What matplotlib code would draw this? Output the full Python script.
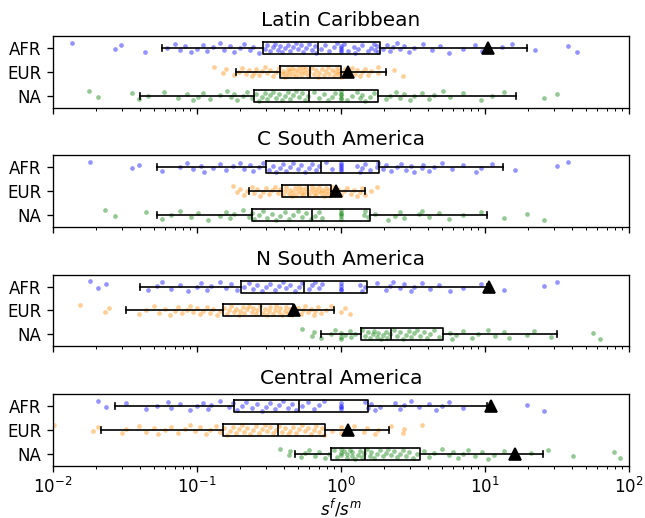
import numpy as np
import matplotlib
matplotlib.use("Agg")
import matplotlib.pyplot as plt

groups = ["AFR", "EUR", "NA"]
regions = ["Latin Caribbean", "C South America", "N South America", "Central America"]
colors = ["blue", "darkorange", "green"]

# individual s^f/s^m values, stored as log10 exponents
lc_afr = [-1.87, -1.57, -1.53, -1.36, -1.21, -1.15, -1.12, -1.08, -1.04, -1.00, -0.96, -0.93, -0.89, -0.84, -0.81,
          -0.77, -0.74, -0.70, -0.67, -0.63, -0.61, -0.57, -0.53, -0.51, -0.49, -0.47, -0.46, -0.44, -0.42, -0.41,
          -0.39, -0.37, -0.35, -0.33, -0.31, -0.30, -0.28, -0.26, -0.24, -0.22, -0.20, -0.18, -0.17, -0.14, -0.11,
          -0.08, -0.05, -0.03, 0.0, 0.0, 0.0, 0.0, 0.02, 0.05, 0.09, 0.10, 0.12, 0.15, 0.19, 0.21, 0.23, 0.24, 0.25,
          0.26, 0.29, 0.32, 0.34, 0.36, 0.39, 0.41, 0.44, 0.47, 0.51, 0.57, 0.63, 0.69, 0.75, 0.85, 0.93, 0.98,
          1.12, 1.19, 1.35, 1.58, 1.64]
lc_eur = [-0.88, -0.82, -0.80, -0.74, -0.71, -0.69, -0.66, -0.64, -0.62, -0.60, -0.59, -0.57, -0.55, -0.53, -0.51,
          -0.49, -0.47, -0.45, -0.43, -0.41, -0.40, -0.39, -0.38, -0.37, -0.36, -0.35, -0.34, -0.33, -0.32, -0.31,
          -0.30, -0.29, -0.28, -0.27, -0.26, -0.25, -0.24, -0.23, -0.22, -0.20, -0.19, -0.17, -0.16, -0.15, -0.13,
          -0.12, -0.10, -0.09, -0.08, -0.06, -0.05, -0.04, -0.03, -0.02, -0.01, 0.0, 0.0, 0.03, 0.05, 0.05, 0.08,
          0.10, 0.11, 0.13, 0.15, 0.17, 0.19, 0.21, 0.26, 0.26, 0.37, 0.43]
lc_na = [-1.75, -1.69, -1.45, -1.40, -1.34, -1.23, -1.13, -1.07, -1.03, -0.99, -0.96, -0.91, -0.84, -0.79, -0.76,
         -0.74, -0.72, -0.68, -0.65, -0.62, -0.59, -0.57, -0.55, -0.53, -0.51, -0.49, -0.47, -0.45, -0.43, -0.41,
         -0.39, -0.37, -0.35, -0.33, -0.31, -0.29, -0.27, -0.25, -0.23, -0.19, -0.15, -0.12, -0.09, -0.06, -0.04,
         0.0, 0.0, 0.0, 0.0, 0.0, 0.04, 0.08, 0.11, 0.13, 0.15, 0.17, 0.20, 0.23, 0.31, 0.34, 0.38, 0.41, 0.44,
         0.48, 0.51, 0.56, 0.61, 0.65, 0.71, 0.76, 0.85, 0.97, 1.05, 1.13, 1.41, 1.50]

csa_afr = [-1.74, -1.45, -1.40, -1.24, -1.12, -1.07, -1.03, -0.97, -0.95, -0.89, -0.84, -0.80, -0.75, -0.70, -0.67,
           -0.63, -0.61, -0.57, -0.54, -0.50, -0.47, -0.45, -0.42, -0.40, -0.38, -0.35, -0.33, -0.30, -0.28, -0.25,
           -0.22, -0.20, -0.17, -0.15, -0.10, -0.06, 0.0, 0.0, 0.0, 0.0, 0.0, 0.11, 0.13, 0.15, 0.17, 0.20, 0.25,
           0.26, 0.29, 0.31, 0.35, 0.39, 0.42, 0.45, 0.49, 0.51, 0.56, 0.57, 0.61, 0.65, 0.70, 0.77, 0.85, 0.94,
           0.97, 1.05, 1.21, 1.50, 1.58]
csa_eur = [-0.75, -0.72, -0.70, -0.67, -0.65, -0.62, -0.60, -0.58, -0.56, -0.54, -0.52, -0.50, -0.48, -0.46, -0.44,
           -0.42, -0.40, -0.39, -0.38, -0.36, -0.35, -0.34, -0.33, -0.32, -0.31, -0.30, -0.29, -0.28, -0.27, -0.26,
           -0.25, -0.24, -0.22, -0.21, -0.20, -0.19, -0.18, -0.17, -0.16, -0.15, -0.14, -0.13, -0.12, -0.11, -0.10,
           -0.09, -0.08, -0.06, -0.04, -0.02, 0.0, 0.02, 0.04, 0.07, 0.09, 0.11, 0.13, 0.15, 0.17, 0.21, 0.25]
csa_na = [-1.64, -1.57, -1.35, -1.24, -1.18, -1.12, -1.04, -0.99, -0.92, -0.84, -0.80, -0.77, -0.74, -0.68, -0.64,
          -0.62, -0.60, -0.57, -0.54, -0.51, -0.48, -0.45, -0.42, -0.39, -0.36, -0.33, -0.30, -0.27, -0.24, -0.21,
          -0.18, -0.15, -0.13, 0.0, 0.0, 0.0, 0.0, 0.0, 0.16, 0.17, 0.19, 0.24, 0.33, 0.375, 0.41, 0.44, 0.54,
          0.56, 0.61, 0.68, 0.75, 0.85, 0.97, 1.13, 1.29, 1.41]

nsa_afr = [-1.74, -1.69, -1.63, -1.34, -1.28, -1.24, -1.18, -1.12, -1.06, -1.00, -0.97, -0.93, -0.90, -0.84, -0.80,
           -0.76, -0.72, -0.67, -0.64, -0.61, -0.58, -0.55, -0.52, -0.49, -0.46, -0.43, -0.40, -0.38, -0.35, -0.32,
           -0.29, -0.27, -0.22, -0.20, -0.18, -0.15, -0.13, 0.0, 0.0, 0.0, 0.0, 0.13, 0.15, 0.17, 0.25, 0.31, 0.34,
           0.36, 0.41, 0.44, 0.49, 0.51, 0.56, 0.62, 0.68, 0.76, 0.85, 0.97, 1.13, 1.41, 1.50]
nsa_eur = [-1.81, -1.64, -1.61, -1.40, -1.35, -1.30, -1.26, -1.22, -1.19, -1.15, -1.13, -1.10, -1.07, -1.05, -1.03,
           -1.00, -0.98, -0.96, -0.93, -0.91, -0.89, -0.86, -0.84, -0.81, -0.79, -0.78, -0.76, -0.74, -0.73, -0.71,
           -0.70, -0.68, -0.67, -0.65, -0.64, -0.62, -0.61, -0.59, -0.58, -0.56, -0.54, -0.53, -0.51, -0.50, -0.49,
           -0.47, -0.46, -0.45, -0.43, -0.42, -0.41, -0.39, -0.38, -0.37, -0.35, -0.34, -0.31, -0.30, -0.28, -0.26,
           -0.25, -0.23, -0.21, -0.19, -0.18, -0.16, -0.14, -0.10, -0.07, 0.0, 0.03, 0.06]
nsa_na = [-0.27, -0.20, -0.19, -0.14, -0.07, -0.04, 0.0, 0.0, 0.0, 0.03, 0.06, 0.07, 0.10, 0.15, 0.17, 0.19, 0.20,
          0.22, 0.23, 0.25, 0.26, 0.28, 0.29, 0.31, 0.32, 0.34, 0.37, 0.39, 0.41, 0.43, 0.45, 0.47, 0.49, 0.51,
          0.53, 0.55, 0.58, 0.60, 0.62, 0.65, 0.68, 0.76, 0.77, 0.80, 0.85, 0.91, 0.95, 1.02, 1.07, 1.13, 1.17,
          1.29, 1.34, 1.46, 1.75, 1.80]

ca_afr = [-1.69, -1.63, -1.49, -1.35, -1.28, -1.20, -1.18, -1.12, -1.05, -1.00, -0.96, -0.92, -0.90, -0.84, -0.78,
          -0.75, -0.72, -0.69, -0.66, -0.62, -0.58, -0.55, -0.52, -0.49, -0.46, -0.43, -0.40, -0.37, -0.34, -0.31,
          -0.27, -0.23, -0.19, -0.15, -0.12, 0.0, 0.0, 0.0, 0.0, 0.17, 0.19, 0.21, 0.24, 0.27, 0.375, 0.41, 0.44,
          0.49, 0.54, 0.61, 0.66, 0.70, 0.75, 0.85, 1.29, 1.41]
ca_eur = [-1.99, -1.72, -1.69, -1.52, -1.49, -1.40, -1.35, -1.30, -1.27, -1.22, -1.18, -1.13, -1.08, -1.05, -1.01,
          -0.98, -0.94, -0.91, -0.87, -0.84, -0.81, -0.79, -0.77, -0.75, -0.73, -0.71, -0.69, -0.67, -0.65, -0.63,
          -0.61, -0.59, -0.57, -0.55, -0.53, -0.51, -0.49, -0.47, -0.45, -0.43, -0.41, -0.39, -0.37, -0.35, -0.33,
          -0.31, -0.29, -0.27, -0.25, -0.23, -0.21, -0.19, -0.17, -0.15, -0.13, -0.12, -0.06, 0.0, 0.0, 0.05,
          0.09, 0.16, 0.18, 0.24, 0.26, 0.35, 0.43, 0.44, 0.56]
ca_na = [-0.42, -0.36, -0.35, -0.28, -0.25, -0.22, -0.18, -0.15, -0.11, -0.08, -0.05, -0.03, 0.0, 0.0, 0.0, 0.02,
         0.04, 0.04, 0.06, 0.08, 0.08, 0.10, 0.12, 0.13, 0.15, 0.16, 0.18, 0.20, 0.21, 0.23, 0.25, 0.27, 0.29,
         0.31, 0.33, 0.35, 0.37, 0.39, 0.41, 0.43, 0.45, 0.47, 0.50, 0.53, 0.58, 0.61, 0.65, 0.70, 0.75, 0.78,
         0.81, 0.85, 0.88, 0.93, 0.98, 1.02, 1.06, 1.13, 1.23, 1.32, 1.44, 1.61, 1.90, 1.94]

# box statistics per group: [whisker low, q1, median, q3, whisker high]
lc_box = [[0.057, 0.29, 0.69, 1.86, 19.5], [0.186, 0.38, 0.61, 1.0, 2.05], [0.040, 0.25, 0.60, 1.82, 16.4]]
csa_box = [[0.0525, 0.30, 0.73, 1.85, 13.3], [0.23, 0.39, 0.59, 0.85, 1.47], [0.0525, 0.24, 0.63, 1.59, 10.3]]
nsa_box = [[0.040, 0.204, 0.556, 1.51, 10.3], [0.032, 0.151, 0.281, 0.467, 0.89], [0.73, 1.38, 2.22, 5.08, 31.5]]
ca_box = [[0.027, 0.18, 0.51, 1.55, 10.3], [0.0216, 0.151, 0.363, 0.775, 2.17], [0.48, 0.86, 1.48, 3.54, 25.4]]

# mean markers (None where the figure shows none)
lc_mean = [10.5, 1.12, None]
csa_mean = [None, 0.92, None]
nsa_mean = [10.6, 0.474, None]
ca_mean = [11.1, 1.12, 16.2]

points = [[lc_afr, lc_eur, lc_na], [csa_afr, csa_eur, csa_na],
          [nsa_afr, nsa_eur, nsa_na], [ca_afr, ca_eur, ca_na]]
boxes = [lc_box, csa_box, nsa_box, ca_box]
means = [lc_mean, csa_mean, nsa_mean, ca_mean]

fig, axes = plt.subplots(4, 1, figsize=(5.375, 4.3167), dpi=120, sharex=True)
fig.subplots_adjust(left=0.082, right=0.975, top=0.9305, bottom=0.101, hspace=0.66)

for ax, title, pts, bx, mn in zip(axes, regions, points, boxes, means):
    for i, (vals, col) in enumerate(zip(pts, colors)):
        x = 10 ** np.array(vals)
        k = np.arange(len(x))
        jit = ((k * 0.618034) % 1 - 0.5) * 0.42
        ax.scatter(x, i + jit, s=8, color=col, alpha=0.42, linewidths=0, zorder=1)
    stats = [dict(whislo=b[0], q1=b[1], med=b[2], q3=b[3], whishi=b[4], fliers=[]) for b in bx]
    ax.bxp(stats, positions=range(3), widths=0.5, orientation="horizontal", showfliers=False,
           boxprops=dict(color="black", linewidth=1.0),
           whiskerprops=dict(color="black", linewidth=1.0),
           capprops=dict(color="black", linewidth=1.0),
           medianprops=dict(color="black", linewidth=1.0), zorder=2)
    for i, m in enumerate(mn):
        if m is not None:
            ax.plot(m, i, marker="^", color="black", markersize=7.5, linestyle="none", zorder=3)
    ax.set_xscale("log")
    ax.set_xlim(1e-2, 1e2)
    ax.set_ylim(2.5, -0.5)
    ax.set_yticks(range(3))
    ax.set_yticklabels(groups)
    ax.set_title(title, fontsize=12)

axes[-1].set_xlabel("$s^f/s^m$", labelpad=-0.5)
fig.savefig("out.png", dpi=120)
